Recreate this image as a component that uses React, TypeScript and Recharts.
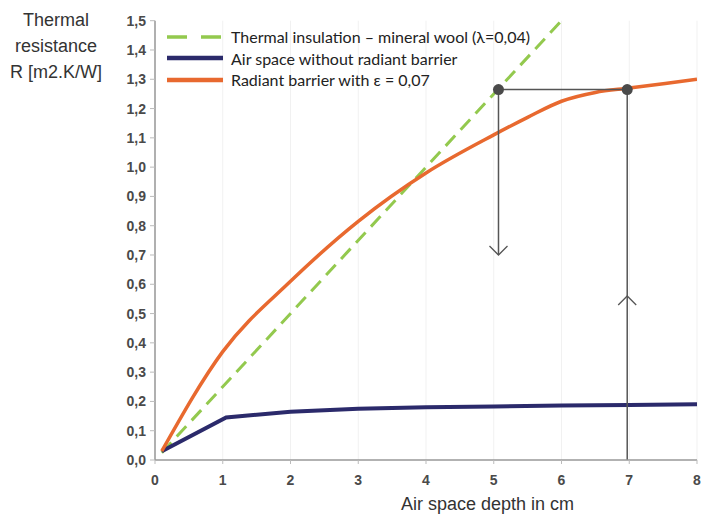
import React from 'react';
import { LineChart, Line, XAxis, YAxis, CartesianGrid, Legend, ReferenceLine, ReferenceDot } from 'recharts';

const xTicks = [0, 1, 2, 3, 4, 5, 6, 7, 8];
const yTicks = [0, 0.1, 0.2, 0.3, 0.4, 0.5, 0.6, 0.7, 0.8, 0.9, 1.0, 1.1, 1.2, 1.3, 1.4, 1.5];

const mineralWool = [
  { x: 0.1, y: 0.025 },
  { x: 6, y: 1.5 },
];
const airSpace = [
  { x: 0.1, y: 0.03 },
  { x: 1.05, y: 0.145 },
  { x: 2, y: 0.165 },
  { x: 3, y: 0.175 },
  { x: 4, y: 0.18 },
  { x: 5, y: 0.183 },
  { x: 6, y: 0.186 },
  { x: 7, y: 0.188 },
  { x: 8, y: 0.19 },
];
const radiantBarrier = [
  { x: 0.1, y: 0.03 },
  { x: 1, y: 0.37 },
  { x: 2, y: 0.61 },
  { x: 3, y: 0.815 },
  { x: 4, y: 0.98 },
  { x: 5, y: 1.11 },
  { x: 5.5, y: 1.17 },
  { x: 6, y: 1.225 },
  { x: 6.5, y: 1.255 },
  { x: 7, y: 1.27 },
  { x: 8, y: 1.3 },
];

// annotation values (data units)
const markerA = { x: 5.07, y: 1.265 };
const markerB = { x: 6.97, y: 1.265 };
const arrowDownEnd = 0.7;
const arrowUpTip = 0.56;

const seriesNames = [
  'Thermal insulation – mineral wool (λ=0,04)',
  'Air space without radiant barrier',
  'Radiant barrier with ε = 0,07',
];
const colors = ['#93c94e', '#2b2a6b', '#e8692f'];

const ANN = '#555555';

const plainShape = (props: any) => (
  <line x1={props.x1} y1={props.y1} x2={props.x2} y2={props.y2} stroke={ANN} strokeWidth={1.5} />
);

const arrowShape = (props: any) => {
  const { x1, y1, x2, y2 } = props;
  const dir = y2 > y1 ? 1 : -1;
  const w = 9;
  const h = 9;
  return (
    <g>
      <line x1={x1} y1={y1} x2={x2} y2={y2} stroke={ANN} strokeWidth={1.5} />
      <polyline
        points={`${x2 - w},${y2 - dir * h} ${x2},${y2} ${x2 + w},${y2 - dir * h}`}
        fill="none"
        stroke={ANN}
        strokeWidth={1.3}
      />
    </g>
  );
};

const LegendContent = () => (
  <div style={{ fontFamily: 'Lato, "Open Sans", sans-serif', fontSize: 16, color: '#222' }}>
    {seriesNames.map((n, i) => (
      <div key={n} style={{ display: 'flex', alignItems: 'center', height: 21.5 }}>
        <svg width={66} height={10}>
          <line
            x1={2}
            y1={5}
            x2={58}
            y2={5}
            stroke={colors[i]}
            strokeWidth={i === 0 ? 3.5 : 4.5}
            strokeDasharray={i === 0 ? '20 14' : undefined}
          />
        </svg>
        <span>{n}</span>
      </div>
    ))}
  </div>
);

const fmt = (v: number) => v.toFixed(1).replace('.', ',');
const tickStyle = { fill: '#4a4a4a', fontSize: 14, fontWeight: 700, fontFamily: '"Liberation Sans", Arial, sans-serif' };

export default function App() {
  return (
    <div style={{ position: 'absolute', left: 0, top: 0, width: 710, height: 514, background: '#fff' }}>
      <LineChart width={710} height={514} margin={{ top: 20.7, right: 13, left: 115, bottom: 24 }}>
        <CartesianGrid stroke="#f1f1f1" vertical={true} horizontal={false} />
        <XAxis
          type="number"
          dataKey="x"
          domain={[0, 8]}
          ticks={xTicks}
          allowDataOverflow
          height={30}
          tick={tickStyle}
          tickSize={4}
          tickMargin={11}
          stroke="#999"
          axisLine={{ stroke: '#999', strokeWidth: 1.5 }}
          tickLine={{ stroke: '#bbb' }}
        />
        <YAxis
          type="number"
          domain={[0, 1.5]}
          ticks={yTicks}
          allowDataOverflow
          width={40}
          tick={tickStyle}
          tickFormatter={fmt}
          tickSize={5}
          tickMargin={4}
          axisLine={{ stroke: '#999', strokeWidth: 1.5 }}
          tickLine={{ stroke: '#bbb' }}
        />
        <Legend
          layout="vertical"
          align="center"
          verticalAlign="middle"
          content={LegendContent}
          wrapperStyle={{ left: 165, top: 26, width: 440 }}
        />
        <Line
          data={mineralWool}
          dataKey="y"
          name={seriesNames[0]}
          type="linear"
          stroke={colors[0]}
          strokeWidth={3}
          strokeDasharray="14 8"
          dot={false}
          isAnimationActive={false}
        />
        <Line
          data={airSpace}
          dataKey="y"
          name={seriesNames[1]}
          type="linear"
          stroke={colors[1]}
          strokeWidth={4}
          dot={false}
          isAnimationActive={false}
        />
        <Line
          data={radiantBarrier}
          dataKey="y"
          name={seriesNames[2]}
          type="monotone"
          stroke={colors[2]}
          strokeWidth={3.5}
          dot={false}
          isAnimationActive={false}
        />
        <ReferenceLine segment={[markerA, markerB]} shape={plainShape} />
        <ReferenceLine segment={[markerA, { x: markerA.x, y: arrowDownEnd }]} shape={arrowShape} />
        <ReferenceLine segment={[markerB, { x: markerB.x, y: arrowUpTip }]} shape={plainShape} />
        <ReferenceLine segment={[{ x: markerB.x, y: 0 }, { x: markerB.x, y: arrowUpTip }]} shape={arrowShape} />
        <ReferenceDot x={markerA.x} y={markerA.y} r={5.5} fill="#4a4a4a" stroke="none" />
        <ReferenceDot x={markerB.x} y={markerB.y} r={5.5} fill="#4a4a4a" stroke="none" />
      </LineChart>
      <div
        style={{
          position: 'absolute',
          left: 0,
          top: 7,
          width: 112,
          textAlign: 'center',
          fontFamily: '"Liberation Sans", Arial, sans-serif',
          fontSize: 18,
          lineHeight: '26px',
          color: '#333',
        }}
      >
        Thermal
        <br />
        resistance
        <br />
        R [m2.K/W]
      </div>
      <div
        style={{
          position: 'absolute',
          left: 401,
          top: 494,
          fontFamily: '"Liberation Sans", Arial, sans-serif',
          fontSize: 18,
          color: '#333',
          whiteSpace: 'nowrap',
        }}
      >
        Air space depth in cm
      </div>
    </div>
  );
}
